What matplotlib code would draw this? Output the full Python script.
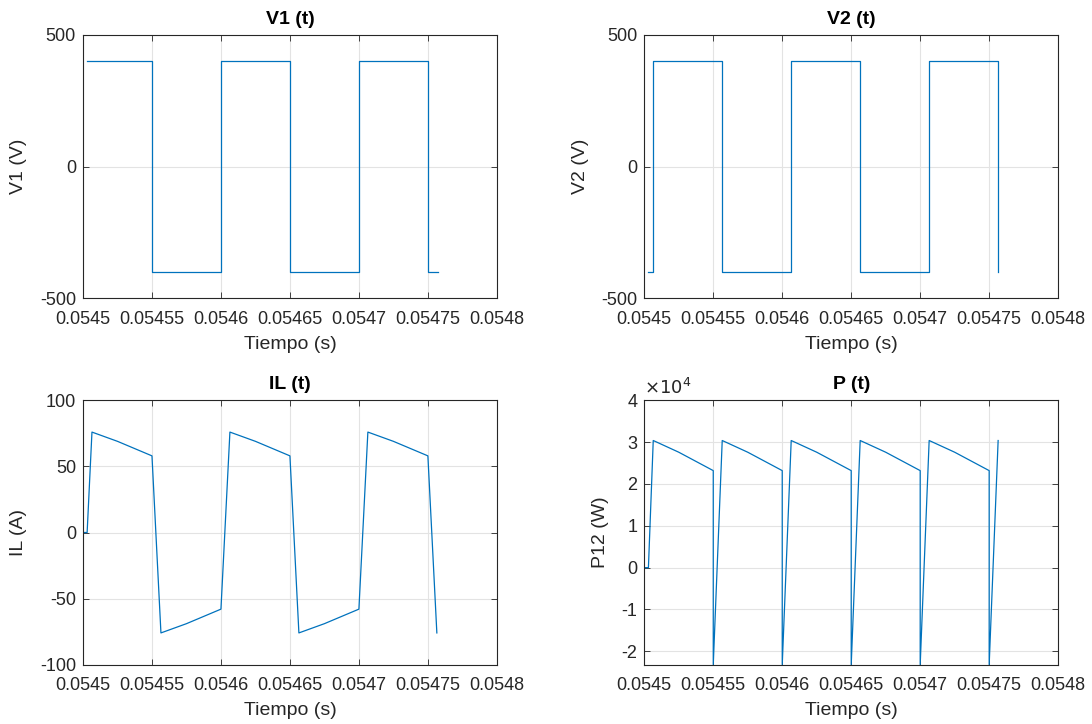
import matplotlib.pyplot as plt
from matplotlib.ticker import FuncFormatter

plt.rcParams['font.family'] = ['Liberation Sans', 'DejaVu Sans']
plt.rcParams['axes.unicode_minus'] = False

# time base offset (s) and sample times in microseconds after it
t0 = 0.0545

t_v1 = [3, 50, 50, 100, 100, 150, 150, 200, 200, 250, 250, 257]
v1 = [400, 400, -400, -400, 400, 400, -400, -400, 400, 400, -400, -400]

t_v2 = [3, 6.5, 6.5, 56.5, 56.5, 106.5, 106.5, 156.5, 156.5, 206.5, 206.5, 256.5, 256.5]
v2 = [-400, -400, 400, 400, -400, -400, 400, 400, -400, -400, 400, 400, -400]

t_il = [0, 3, 6.5, 25, 50, 56.5, 75, 100, 106.5, 125, 150, 156.5, 175, 200,
        206.5, 225, 250, 256.5]
il = [0, 0, 76, 69, 58, -76, -69, -58, 76, 69, 58, -76, -69, -58, 76, 69, 58, -76]

t_p = [0, 3, 6.5, 25, 50, 50, 56.5, 75, 100, 100, 106.5, 125, 150, 150, 156.5,
       175, 200, 200, 206.5, 225, 250, 250, 256.5]
p12 = [0, 0, 30400, 27600, 23200, -23200, 30400, 27600, 23200, -23200, 30400,
       27600, 23200, -23200, 30400, 27600, 23200, -23200, 30400, 27600, 23200,
       -23200, 30400]

xticks = [0.0545, 0.05455, 0.0546, 0.05465, 0.0547, 0.05475, 0.0548]
xticklabels = ['0.0545', '0.05455', '0.0546', '0.05465', '0.0547', '0.05475', '0.0548']

blue = '#0072BD'
dark = '#262626'

fig = plt.figure(figsize=(10.92, 7.24), dpi=100)

pos = {
    'v1': [0.076, 0.588, 0.379, 0.364],
    'v2': [0.590, 0.588, 0.379, 0.364],
    'il': [0.076, 0.082, 0.379, 0.365],
    'p': [0.590, 0.082, 0.379, 0.365],
}


def style(ax, title, ylabel):
    ax.set_title(title, fontsize=14, fontweight='bold', color='black', pad=8)
    ax.set_xlabel('Tiempo (s)', fontsize=14, color=dark, labelpad=6)
    ax.set_ylabel(ylabel, fontsize=14, color=dark, labelpad=9)
    ax.set_xlim(0.0545, 0.0548)
    ax.set_xticks(xticks)
    ax.set_xticklabels(xticklabels)
    ax.tick_params(direction='in', top=True, right=True, length=4, width=0.6,
                   labelsize=13, colors=dark, pad=5)
    ax.tick_params(axis='x', pad=9)
    ax.grid(True, color='#e3e3e3', linewidth=0.8)
    ax.set_axisbelow(True)
    for s in ax.spines.values():
        s.set_color(dark)
        s.set_linewidth(0.8)


def secs(ts):
    return [t0 + t * 1e-6 for t in ts]


ax = fig.add_axes(pos['v1'])
ax.plot(secs(t_v1), v1, color=blue, lw=0.9)
ax.set_ylim(-500, 500)
ax.set_yticks([-500, 0, 500])
style(ax, 'V1 (t)', 'V1 (V)')

ax = fig.add_axes(pos['v2'])
ax.plot(secs(t_v2), v2, color=blue, lw=0.9)
ax.set_ylim(-500, 500)
ax.set_yticks([-500, 0, 500])
style(ax, 'V2 (t)', 'V2 (V)')

ax = fig.add_axes(pos['il'])
ax.plot(secs(t_il), il, color=blue, lw=0.9)
ax.set_ylim(-100, 100)
ax.set_yticks([-100, -50, 0, 50, 100])
style(ax, 'IL (t)', 'IL (A)')

ax = fig.add_axes(pos['p'])
ax.plot(secs(t_p), p12, color=blue, lw=0.9)
ax.set_ylim(min(p12), 40000)
ax.set_yticks([-20000, -10000, 0, 10000, 20000, 30000, 40000])
ax.yaxis.set_major_formatter(FuncFormatter(lambda v, _: '%g' % (v / 1e4)))
ax.text(0.0, 1.01, r'$\times10^4$', transform=ax.transAxes, fontsize=13,
        color=dark, ha='left', va='bottom')
style(ax, 'P (t)', 'P12 (W)')

fig.savefig('out.png', dpi=100)
